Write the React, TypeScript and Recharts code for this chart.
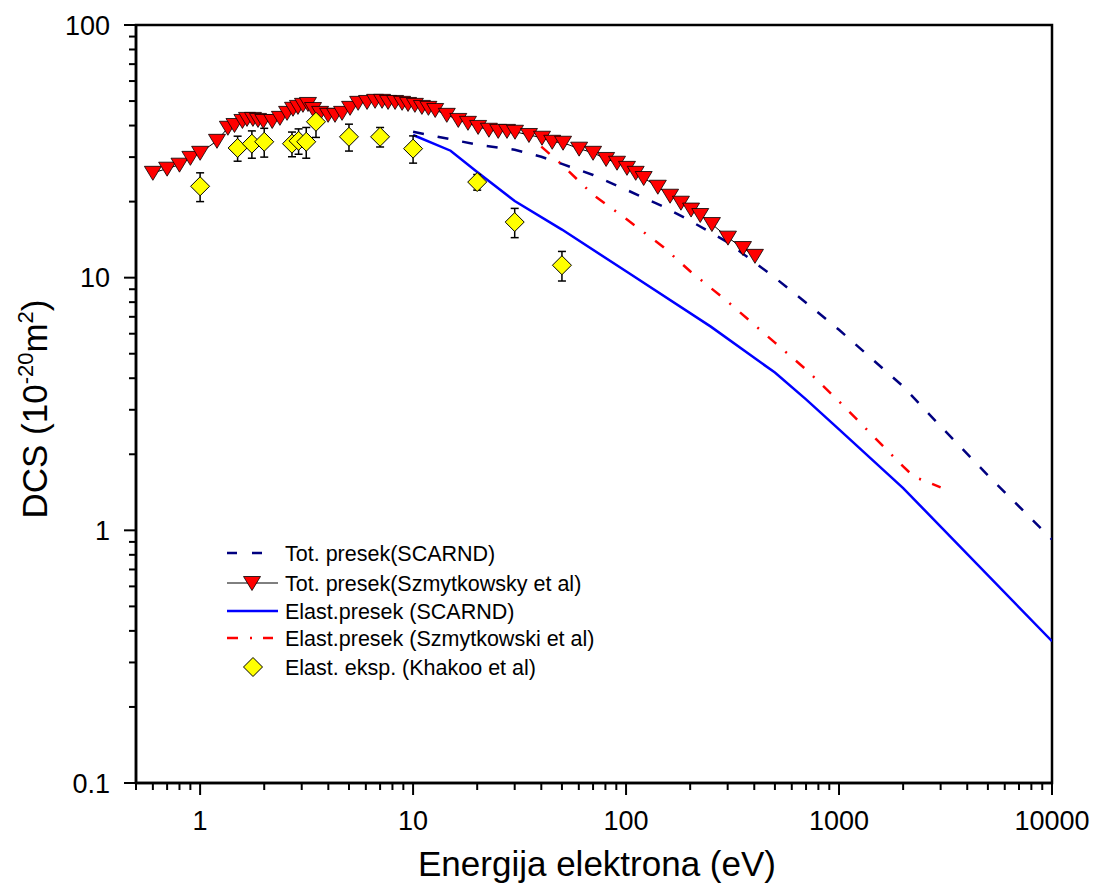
import { ComposedChart, Line, Scatter, XAxis, YAxis, ErrorBar, ReferenceArea } from "recharts";

// Tot. presek (SCARND)
const totScarndE = [10, 15, 20, 30, 40, 50, 70, 100, 150, 200, 300, 500, 700, 1000, 2000, 3000, 5000, 10000];
const totScarndQ = [37.8, 35.3, 33.6, 32.1, 30.1, 28.2, 25.5, 22.3, 19.1, 16.8, 13.8, 10.0, 7.96, 6.22, 3.71, 2.58, 1.65, 0.92];

// Tot. presek (Szmytkowsky et al)
const totSzmE = [
  0.6, 0.7, 0.8, 0.9, 1.0, 1.2, 1.35, 1.45, 1.58, 1.66, 1.77, 1.87, 1.98, 2.18, 2.37, 2.56, 2.73, 2.88,
  3.04, 3.21, 3.39, 3.66, 3.99, 4.3, 4.64, 5.06, 5.52, 6.08, 6.63, 7.15, 7.63, 8.23, 8.88, 9.47, 10.2,
  11.0, 11.8, 12.7, 14.4, 16.3, 18.1, 20.2, 22.7, 25.1, 27.6, 30.1, 35, 40.3, 45, 50.6, 60.2, 70, 80.6,
  90.7, 101, 111, 121, 141, 161, 181, 202, 223, 253, 301, 354, 403,
];
const totSzmQ = [
  26.0, 27.0, 28.0, 29.8, 31.2, 34.8, 39.2, 40.2, 41.7, 42.5, 42.5, 42.1, 41.7, 41.7, 42.9, 44.9, 46.6, 47.4,
  48.3, 48.7, 46.5, 44.9, 44.1, 44.1, 44.9, 47.0, 49.2, 49.6, 50.1, 50.1, 49.6, 49.6, 49.2, 48.7, 48.3,
  47.4, 47.0, 46.1, 44.1, 42.1, 41.0, 39.5, 38.5, 38.1, 38.1, 37.8, 36.7, 35.8, 34.5, 34.2, 32.4, 31.2, 29.5,
  28.5, 27.2, 26.0, 24.8, 22.9, 21.1, 19.8, 18.6, 17.7, 16.3, 14.4, 13.1, 12.2,
];

// Elast. presek (SCARND)
const elScarndE = [10, 15, 20, 30, 50, 100, 250, 500, 700, 1000, 2000, 10000];
const elScarndQ = [36.7, 31.8, 26.2, 20.1, 15.5, 10.6, 6.4, 4.21, 3.3, 2.51, 1.47, 0.364];

// Elast. presek (Szmytkowski et al)
const elSzmE = [40, 50, 70, 100, 150, 200, 300, 500, 700, 1000, 2000, 2250, 3000];
const elSzmQ = [33.0, 28.0, 21.3, 17.1, 13.2, 10.6, 8.04, 5.53, 4.33, 3.24, 1.79, 1.63, 1.48];

// Elast. eksp. (Khakoo et al)
const khakooE = [1, 1.5, 1.75, 2, 2.7, 2.9, 3.15, 3.5, 5, 7, 10, 20, 30, 50];
const khakooQ = [23, 32.6, 33.9, 34.5, 33.9, 34.8, 34.5, 41.4, 36.1, 36.1, 32.4, 23.9, 16.6, 11.2];
const khakooErr = [3, 3.7, 4.2, 4.5, 3.8, 4, 4.8, 5.5, 4.4, 3.2, 4, 1.7, 2.2, 1.5];

const xMajor = [1, 10, 100, 1000, 10000];
const xMinor = [0.5, 0.6, 0.7, 0.8, 0.9, 2, 3, 4, 5, 6, 7, 8, 9, 20, 30, 40, 50, 60, 70, 80, 90,
  200, 300, 400, 500, 600, 700, 800, 900, 2000, 3000, 4000, 5000, 6000, 7000, 8000, 9000];
const yMajor = [0.1, 1, 10, 100];
const yMinor = [0.2, 0.3, 0.4, 0.5, 0.6, 0.7, 0.8, 0.9, 2, 3, 4, 5, 6, 7, 8, 9, 20, 30, 40, 50, 60, 70, 80, 90];

const pairs = (xs: number[], ys: number[]) => xs.map((x, i) => ({ x, y: ys[i] }));
const totScarnd = pairs(totScarndE, totScarndQ);
const totSzm = pairs(totSzmE, totSzmQ);
const elScarnd = pairs(elScarndE, elScarndQ);
const elSzm = pairs(elSzmE, elSzmQ);
const khakoo = khakooE.map((x, i) => ({ x, y: khakooQ[i], err: khakooErr[i] }));

const FONT = "Arial, 'Liberation Sans', sans-serif";

function XTick({ x, y, payload }: any) {
  const major = xMajor.includes(payload.value);
  return (
    <g>
      <line x1={x} x2={x} y1={y} y2={y + (major ? 12 : 7)} stroke="#000" strokeWidth={2} />
      {major && (
        <text x={x} y={830} textAnchor="middle" fontSize={27} fontFamily={FONT} fill="#000">
          {payload.value}
        </text>
      )}
    </g>
  );
}

function YTick({ x, y, payload }: any) {
  const major = yMajor.includes(payload.value);
  return (
    <g>
      <line x1={x} x2={x - (major ? 12 : 7)} y1={y} y2={y} stroke="#000" strokeWidth={2} />
      {major && (
        <text x={110} y={y} dy="0.36em" textAnchor="end" fontSize={27} fontFamily={FONT} fill="#000">
          {payload.value}
        </text>
      )}
    </g>
  );
}

function Triangle({ cx, cy }: any) {
  if (cx == null || cy == null) return null;
  return (
    <path
      d={`M${cx - 8.5},${cy - 6.5} L${cx + 8.5},${cy - 6.5} L${cx},${cy + 7.5} Z`}
      fill="#ff0000"
      stroke="#000"
      strokeWidth={0.8}
    />
  );
}

function Diamond({ cx, cy }: any) {
  if (cx == null || cy == null) return null;
  return (
    <path
      d={`M${cx},${cy - 9.5} L${cx + 9.5},${cy} L${cx},${cy + 9.5} L${cx - 9.5},${cy} Z`}
      fill="#ffff00"
      stroke="#000"
      strokeWidth={1}
    />
  );
}

const legendRows = [
  "Tot. presek(SCARND)",
  "Tot. presek(Szmytkowsky et al)",
  "Elast.presek (SCARND)",
  "Elast.presek (Szmytkowski et al)",
  "Elast. eksp. (Khakoo et al)",
];
const legendY = [553, 583, 611, 638, 667];

function Overlay() {
  return (
    <svg
      width={1095}
      height={884}
      style={{ position: "absolute", left: 0, top: 0, pointerEvents: "none" }}
      fontFamily={FONT}
    >
      <line x1={227} x2={264} y1={legendY[0]} y2={legendY[0]} stroke="#000080" strokeWidth={2.5} strokeDasharray="10 15" />
      <line x1={227} x2={278} y1={legendY[1]} y2={legendY[1]} stroke="#000" strokeWidth={1} />
      <Triangle cx={252} cy={legendY[1]} />
      <line x1={227} x2={278} y1={legendY[2]} y2={legendY[2]} stroke="#0000ff" strokeWidth={2.5} />
      <line x1={227} x2={273} y1={legendY[3]} y2={legendY[3]} stroke="#ff0000" strokeWidth={2.5} strokeDasharray="11 12 2 11" />
      <Diamond cx={253} cy={legendY[4]} />
      {legendRows.map((t, i) => (
        <text key={t} x={285} y={legendY[i]} dy="0.36em" fontSize={21.5} fill="#000">
          {t}
        </text>
      ))}
      <text x={597} y={876} textAnchor="middle" fontSize={35} fill="#000">
        Energija elektrona (eV)
      </text>
      <text x={47} y={409} textAnchor="middle" fontSize={35} fill="#000" transform="rotate(-90, 47, 409)">
        <tspan>DCS (10</tspan>
        <tspan dy={-14} fontSize={22}>-20</tspan>
        <tspan dy={14}>m</tspan>
        <tspan dy={-14} fontSize={22}>2</tspan>
        <tspan dy={14}>)</tspan>
      </text>
    </svg>
  );
}

export default function App() {
  return (
    <div style={{ position: "absolute", left: 0, top: 0, width: 1095, height: 884, background: "#fff" }}>
      <ComposedChart width={1095} height={884} margin={{ top: 25, right: 43, bottom: 0, left: 0 }}>
        <XAxis
          dataKey="x"
          type="number"
          scale="log"
          domain={[0.5, 10000]}
          allowDataOverflow
          ticks={[...xMinor, ...xMajor].sort((a, b) => a - b)}
          interval={0}
          height={101}
          tickSize={0}
          tickMargin={0}
          tick={<XTick />}
          axisLine={{ stroke: "#000", strokeWidth: 2.5 }}
        />
        <YAxis
          dataKey="y"
          type="number"
          scale="log"
          domain={[0.1, 100]}
          allowDataOverflow
          ticks={[...yMinor, ...yMajor].sort((a, b) => a - b)}
          interval={0}
          width={136}
          tickSize={0}
          tickMargin={0}
          tick={<YTick />}
          axisLine={{ stroke: "#000", strokeWidth: 2.5 }}
        />
        <ReferenceArea x1={0.5} x2={10000} y1={0.1} y2={100} fill="none" stroke="#000" strokeWidth={2.5} />
        <Line data={totScarnd} dataKey="y" type="linear" stroke="#000080" strokeWidth={2.5} strokeDasharray="11 14" dot={false} isAnimationActive={false} />
        <Line data={elScarnd} dataKey="y" type="linear" stroke="#0000ff" strokeWidth={2.5} dot={false} isAnimationActive={false} />
        <Line data={elSzm} dataKey="y" type="linear" stroke="#ff0000" strokeWidth={2.5} strokeDasharray="11 12 2 12" dot={false} isAnimationActive={false} />
        <Scatter data={totSzm} dataKey="y" shape={<Triangle />} line={{ stroke: "#000", strokeWidth: 1 }} lineType="joint" isAnimationActive={false} />
        <Scatter data={khakoo} dataKey="y" shape={<Diamond />} isAnimationActive={false}>
          <ErrorBar dataKey="err" direction="y" width={4} stroke="#000" strokeWidth={1.5} />
        </Scatter>
      </ComposedChart>
      <Overlay />
    </div>
  );
}
